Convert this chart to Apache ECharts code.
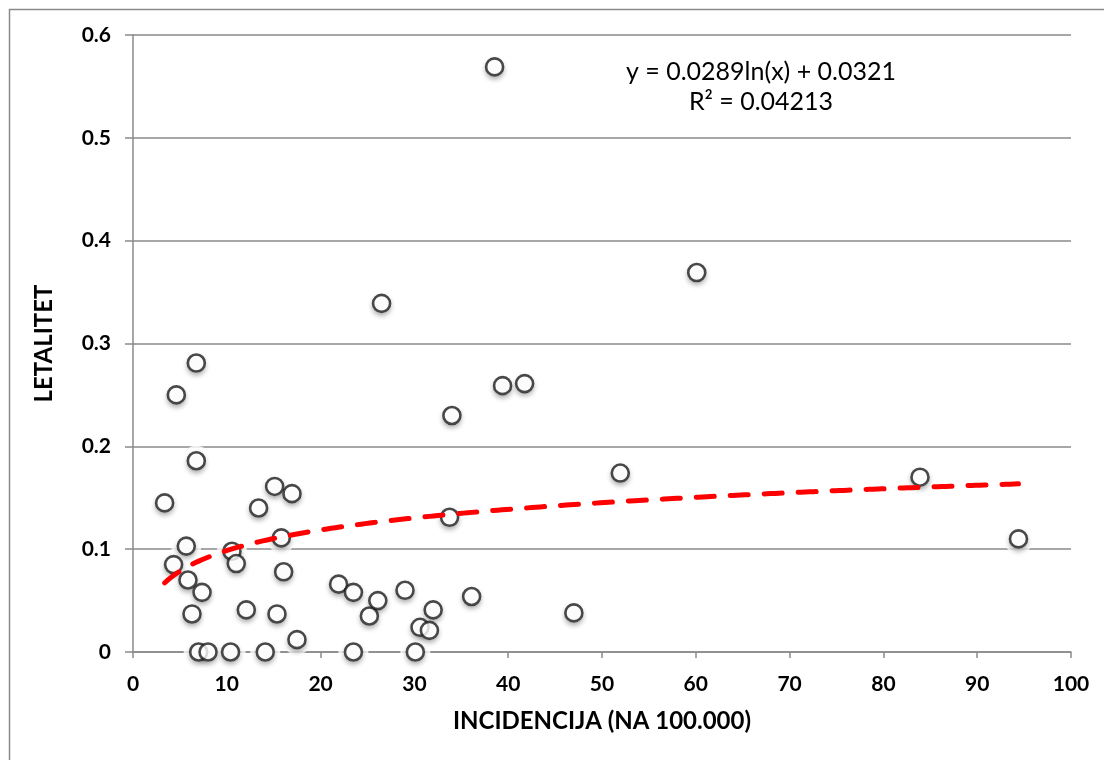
<!DOCTYPE html>
<html>
<head>
<meta charset="utf-8">
<script src="https://cdn.jsdelivr.net/npm/echarts@6/dist/echarts.min.js"></script>
<style>html,body{margin:0;padding:0;background:#fff;}#c{width:1104px;height:760px;}</style>
</head>
<body>
<div id="c"></div>
<script>
// Incidence (per 100,000) values
const incidence = [3.37, 4.33, 4.62, 5.68, 5.86, 6.29, 6.75, 6.75, 7.36, 7.0, 8.0, 10.4, 14.1,
  10.55, 11.01, 12.08, 13.39, 15.1, 15.35, 15.81, 16.06, 16.95, 17.48,
  21.92, 23.5, 23.5, 25.2, 26.1, 26.5, 29.0, 30.1, 30.6, 31.6, 32.0, 33.75, 34.0, 36.1,
  38.55, 39.4, 41.75, 47.0, 51.95, 60.1, 83.9, 94.4];
// Lethality values
const lethality = [0.145, 0.085, 0.250, 0.103, 0.070, 0.037, 0.281, 0.186, 0.058, 0, 0, 0, 0,
  0.098, 0.086, 0.041, 0.140, 0.161, 0.037, 0.111, 0.078, 0.154, 0.012,
  0.066, 0.058, 0, 0.035, 0.050, 0.339, 0.060, 0, 0.024, 0.021, 0.041, 0.131, 0.230, 0.054,
  0.569, 0.259, 0.261, 0.038, 0.174, 0.369, 0.170, 0.110];
// Logarithmic trendline coefficients as printed on the chart
const trendA = 0.0289;
const trendB = 0.0321;
const equationText = 'y = 0.0289ln(x) + 0.0321';
const r2Text = 'R² = 0.04213';
const xTicks = [0, 10, 20, 30, 40, 50, 60, 70, 80, 90, 100];
const yTicks = [0, 0.1, 0.2, 0.3, 0.4, 0.5, 0.6];
const xName = 'INCIDENCIJA (NA 100.000)';
const yName = 'LETALITET';

const points = incidence.map((x, i) => [x, lethality[i]]);
const xMin = Math.min.apply(null, incidence), xMax = Math.max.apply(null, incidence);
const trend = [];
const steps = 200;
for (let i = 0; i <= steps; i++) {
  const x = xMin + (xMax - xMin) * i / steps;
  trend.push([x, trendA * Math.log(x) + trendB]);
}

const chart = echarts.init(document.getElementById('c'));
const gray = '#8a8a8a';
const fontFam = 'Lato, "Open Sans", sans-serif';
chart.setOption({
  animation: false,
  backgroundColor: '#fff',
  grid: { left: 133, right: 33, top: 35, bottom: 108, containLabel: false },
  xAxis: {
    type: 'value', min: xTicks[0], max: xTicks[xTicks.length - 1], interval: 10,
    name: xName, nameLocation: 'middle', nameGap: 57,
    nameTextStyle: { fontFamily: fontFam, fontWeight: 'bold', fontSize: 24, color: '#000' },
    axisLine: { show: true, onZero: false, lineStyle: { color: gray, width: 1.5 } },
    axisTick: { show: true, inside: false, length: 6, lineStyle: { color: gray, width: 1.5 } },
    axisLabel: { fontFamily: fontFam, fontWeight: 'bold', fontSize: 21, color: '#000', margin: 22 },
    splitLine: { show: false }
  },
  yAxis: {
    type: 'value', min: yTicks[0], max: yTicks[yTicks.length - 1], interval: 0.1,
    name: yName, nameLocation: 'middle', nameGap: 77, nameRotate: 90,
    nameTextStyle: { fontFamily: fontFam, fontWeight: 'bold', fontSize: 24, color: '#000' },
    axisLine: { show: true, lineStyle: { color: gray, width: 1.5 } },
    axisTick: { show: true, inside: false, length: 8, lineStyle: { color: gray, width: 1.5 } },
    axisLabel: { fontFamily: fontFam, fontWeight: 'bold', fontSize: 21, color: '#000', margin: 22,
      formatter: v => String(Math.round(v * 10) / 10) },
    splitLine: { show: true, lineStyle: { color: gray, width: 1.5 } }
  },
  series: [
    {
      type: 'scatter', data: points, symbol: 'circle', symbolSize: 30, z: 2,
      itemStyle: { color: '#fff' }, silent: true
    },
    {
      type: 'scatter', data: points, symbol: 'circle', symbolSize: 19, z: 3, silent: true,
      itemStyle: { color: '#fff', shadowBlur: 5, shadowOffsetY: 3, shadowColor: 'rgba(0,0,0,0.4)' }
    },
    {
      type: 'scatter', data: points, symbol: 'circle', symbolSize: 17, z: 4,
      itemStyle: { color: '#fff', borderColor: '#1a1a1a', borderWidth: 2.6 }
    },
    {
      type: 'line', data: trend, showSymbol: false, smooth: false, z: 5,
      lineStyle: { color: '#ff0000', width: 5, type: [18, 16], cap: 'round' }
    }
  ],
  graphic: [
    { type: 'rect', shape: { x: 9.5, y: 9.5, width: 1200, height: 1000 },
      style: { fill: 'none', stroke: gray, lineWidth: 1.5 }, z: 0, silent: true },
    { type: 'text', x: 761, y: 72, style: { text: equationText, fontFamily: fontFam, fontSize: 25,
      fill: '#000', align: 'center', verticalAlign: 'middle' }, z: 10 },
    { type: 'text', x: 761, y: 102, style: { text: r2Text, fontFamily: fontFam, fontSize: 25,
      fill: '#000', align: 'center', verticalAlign: 'middle' }, z: 10 }
  ]
});
</script>
</body>
</html>
